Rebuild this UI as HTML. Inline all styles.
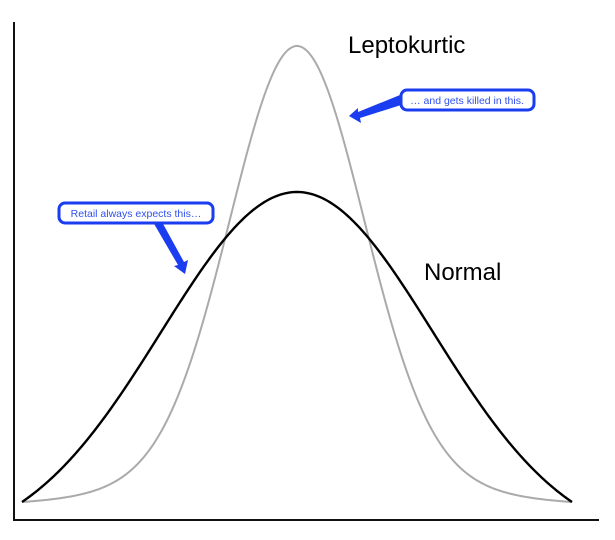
<!DOCTYPE html>
<html><head><meta charset="utf-8"><style>
html,body{margin:0;padding:0;background:#fff;}
svg{display:block;}
</style></head><body>
<svg id="s" width="615" height="540" xmlns="http://www.w3.org/2000/svg">
<rect width="615" height="540" fill="#fff"/>
<line x1="14" y1="22" x2="14" y2="521" stroke="#111" stroke-width="2"/>
<line x1="13" y1="520" x2="599" y2="520" stroke="#111" stroke-width="2"/>
<path id="lep" fill="none" stroke="#aaa" stroke-width="2"/>
<path id="nor" fill="none" stroke="#000" stroke-width="2.4"/>
<text x="348" y="53" font-family="Liberation Sans, sans-serif" font-size="24" fill="#000">Leptokurtic</text>
<text x="424" y="280" font-family="Liberation Sans, sans-serif" font-size="24" fill="#000">Normal</text>
<polygon points="400,95 401,105 360,118 361,123 349,116 358,108 358,112" fill="#1a3df0"/>
<rect x="401" y="90" width="133" height="20" rx="6" fill="#fff" stroke="#1a3df0" stroke-width="3"/>
<text x="467" y="104" text-anchor="middle" font-family="Liberation Sans, sans-serif" font-size="10.5" fill="#3050f0">… and gets killed in this.</text>
<polygon points="153,222 162,222 184,262 188,260 185,274 174,266 178,265" fill="#1a3df0"/>
<rect x="59" y="203" width="154" height="20" rx="6" fill="#fff" stroke="#1a3df0" stroke-width="3"/>
<text x="136" y="217" text-anchor="middle" font-family="Liberation Sans, sans-serif" font-size="10.5" fill="#3050f0">Retail always expects this…</text>
</svg>
<script>
function g(dx,s){return Math.exp(-dx*dx/(2*s*s));}
function build(fn,H){
  var d="",E=fn(275);
  for(var x=22;x<=572;x+=2){
    var h=H*(fn(x-297)-E)/(fn(0)-E);
    d+=(x==22?"M":"L")+x+","+(502-h).toFixed(2)+" ";
  }
  return d;
}
document.getElementById("nor").setAttribute("d",build(function(dx){return g(dx,136);},310));
document.getElementById("lep").setAttribute("d",build(function(dx){return 0.9*g(dx,66)+0.1*g(dx,120);},456));
</script>
</body></html>
